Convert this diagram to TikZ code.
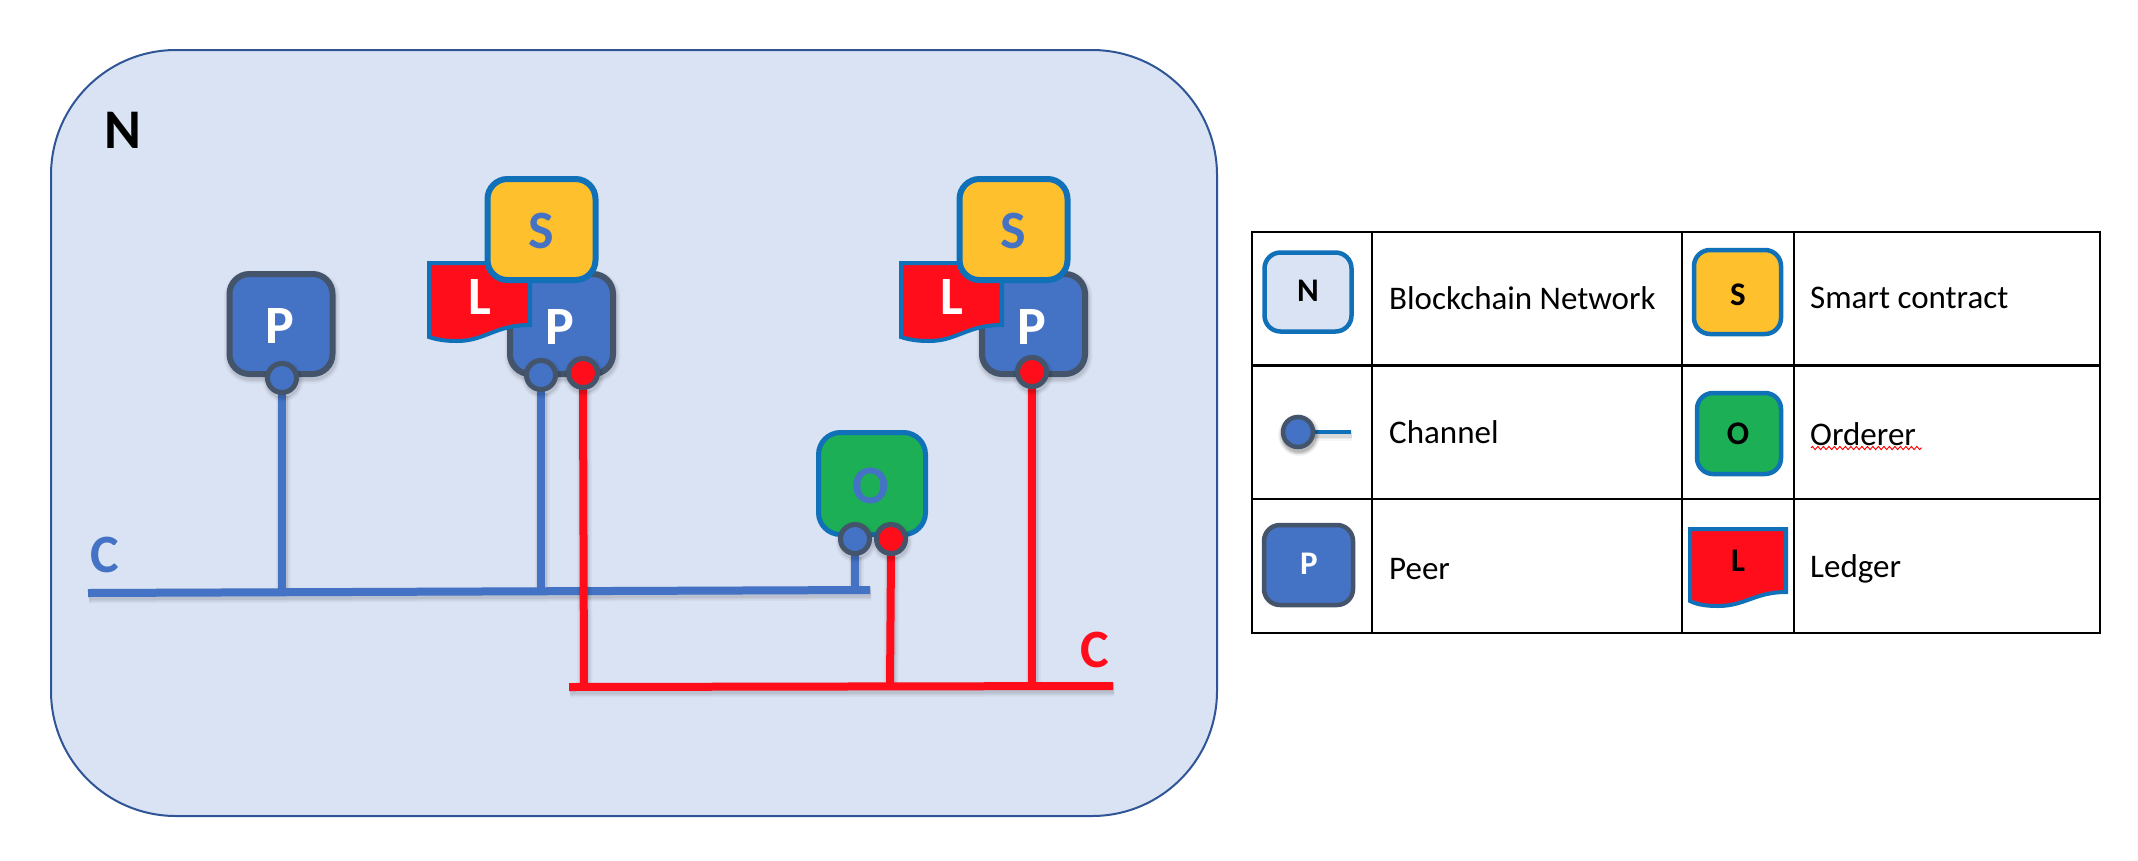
\documentclass[tikz,border=0pt]{standalone}
\usepackage{fontspec}
\setmainfont{Carlito}
\usetikzlibrary{decorations.pathmorphing}
\definecolor{netfill}{HTML}{DAE3F3}
\definecolor{netline}{HTML}{2F5597}
\definecolor{peerblue}{HTML}{4472C4}
\definecolor{peerline}{HTML}{44546A}
\definecolor{edgeblue}{HTML}{1070B8}
\definecolor{ledgerred}{HTML}{FF0D1B}
\definecolor{smartgold}{HTML}{FFC02D}
\definecolor{ordgreen}{HTML}{1CAF56}
\pgfdeclarelayer{netlayer}
\pgfdeclarelayer{connlayer}
\pgfsetlayers{netlayer,connlayer,main}
\newcommand{\bigfnt}{\fontsize{54}{60}\selectfont\bfseries}
\newcommand{\minifnt}{\fontsize{33}{38}\selectfont\bfseries}
\newcommand{\labfnt}{\fontsize{33}{40}\selectfont}
\tikzset{
  softshadow/.style={
    preaction={draw=black,fill=none,opacity=.03,line width=#1+7pt,transform canvas={xshift=1pt,yshift=-3pt}},
    preaction={draw=black,fill=none,opacity=.05,line width=#1+4pt,transform canvas={xshift=1pt,yshift=-3pt}},
    preaction={draw=black,fill=none,opacity=.07,line width=#1+1pt,transform canvas={xshift=1pt,yshift=-3pt}}},
  boxbase/.style={rectangle,inner sep=0pt,outer sep=0pt},
  peerbox/.style={boxbase,draw=peerline,fill=peerblue,line width=6pt,rounded corners=20pt,minimum width=103pt,minimum height=100pt,softshadow=6pt},
  smartbox/.style={boxbase,draw=edgeblue,fill=smartgold,line width=6pt,rounded corners=20pt,minimum width=108pt,minimum height=101pt},
  orderbox/.style={boxbase,draw=edgeblue,fill=ordgreen,line width=5pt,rounded corners=22pt,minimum width=107pt,minimum height=102pt},
  flagshape/.style={draw=edgeblue,fill=ledgerred,line width=4pt},
  port/.style={circle,inner sep=0pt,outer sep=0pt,minimum size=29pt,draw=peerline,line width=5pt,softshadow=5pt},
  blueport/.style={port,fill=peerblue},
  redport/.style={port,fill=ledgerred},
  blueline/.style={draw=peerblue,line width=8pt,softshadow=8pt},
  redline/.style={draw=ledgerred,line width=8pt,softshadow=8pt},
  bigtext/.style={inner sep=0pt,font=\bigfnt},
  legendbox/.style={boxbase,line width=4.5pt,rounded corners=16pt,minimum width=87pt,minimum height=79pt},
  minitext/.style={inner sep=0pt,font=\minifnt},
  labeltext/.style={anchor=west,inner sep=0pt,font=\labfnt,text=black},
  tablerule/.style={draw=black,line width=2.5pt}
}
\begin{document}
\begin{tikzpicture}[x=1pt,y=-1pt]
\useasboundingbox (0,0) rectangle (2138,860);

\begin{pgfonlayer}{netlayer}
\fill[white] (0,0) rectangle (2138,860);
\node[boxbase,draw=netline,fill=netfill,line width=2pt,rounded corners=125pt,minimum width=1166pt,minimum height=766pt] (net) at (634,433) {};
\end{pgfonlayer}
\node[bigtext,font=\fontsize{56}{64}\selectfont\bfseries] (nlabel) at (123,130) {N};
\node[bigtext,text=peerblue] (cblue) at (105,555) {C};
\node[bigtext,text=ledgerred] (cred) at (1095,650) {C};

% peer 1
\node[peerbox] (p1) at (281,324) {};
\node[bigtext,text=white] (p1t) at (280,326) {P};

% peer 2 group
\node[peerbox] (p2) at (561.5,324) {};
\node[bigtext,text=white] (p2t) at (560,327) {P};
\path[flagshape] (429,263) -- (530,263) -- (530,325) .. controls (495,325) and (485,341) .. (457,341) .. controls (447,341) and (438,340) .. (429,337) -- cycle;
\node[bigtext,text=white] (l2t) at (480,297) {L};
\node[smartbox] (s2) at (541.5,229.5) {};
\node[bigtext,text=peerblue] (s2t) at (541,231) {S};

% peer 3 group
\begin{scope}[xshift=472pt]
\node[peerbox] (p3) at (561.5,324) {};
\node[bigtext,text=white] (p3t) at (560,327) {P};
\path[flagshape] (429,263) -- (530,263) -- (530,325) .. controls (495,325) and (485,341) .. (457,341) .. controls (447,341) and (438,340) .. (429,337) -- cycle;
\node[bigtext,text=white] (l3t) at (480,297) {L};
\node[smartbox] (s3) at (541.5,229.5) {};
\node[bigtext,text=peerblue] (s3t) at (541,231) {S};
\end{scope}

% orderer
\node[orderbox] (ord) at (872,483.5) {};
\node[bigtext,text=peerblue] (ordt) at (871,486) {O};

% ports
\node[blueport] (b1) at (282,378) {};
\node[blueport] (b2) at (541,375) {};
\node[redport] (r2) at (583,373) {};
\node[redport] (r3) at (1032,372) {};
\node[blueport] (b4) at (855,539) {};
\node[redport] (r4) at (891,539) {};

% channel buses
\coordinate (ba) at (88,593);
\coordinate (bb) at (870,590);
\coordinate (ja) at (282,592.3);
\coordinate (jb) at (541,591.4);
\coordinate (jc) at (855,590);
\coordinate (ra) at (569,687);
\coordinate (rb) at (1113,686);
\coordinate (ka) at (584,687);
\coordinate (kb) at (890,686.5);
\coordinate (kc) at (1032,686);
\begin{pgfonlayer}{connlayer}
\draw[blueline] (b1.south) -- (ja);
\draw[blueline] (b2.south) -- (jb);
\draw[blueline] (b4.south) -- (jc);
\draw[blueline] (ba) -- (bb);
\draw[redline] (r2.south) -- (ka);
\draw[redline] (r4.south) -- (kb);
\draw[redline] (r3.south) -- (kc);
\draw[redline] (ra) -- (rb);
\end{pgfonlayer}

% legend table
\draw[tablerule] (1252,232) rectangle (2100,633);
\draw[tablerule] (1252,365.5) -- (2100,365.5);
\draw[tablerule] (1252,499) -- (2100,499);
\draw[tablerule] (1372,232) -- (1372,633);
\draw[tablerule] (1682,232) -- (1682,633);
\draw[tablerule] (1794,232) -- (1794,633);

\node[legendbox,draw=edgeblue,fill=netfill] (lgn) at (1308,292) {};
\node[minitext] (lgnt) at (1308,291) {N};
\node[labeltext] (lgnl) at (1389,298) {Blockchain Network};

\node[legendbox,draw=edgeblue,fill=smartgold,minimum height=84pt] (lgs) at (1737.5,292) {};
\node[minitext] (lgst) at (1738,295) {S};
\node[labeltext] (lgsl) at (1810,298) {Smart contract};

\node[port,fill=peerblue,minimum size=30pt,line width=4.5pt,softshadow=4pt] (lgc) at (1298,432) {};
\coordinate (lgcend) at (1351,432);
\begin{pgfonlayer}{connlayer}
\draw[draw=edgeblue,line width=4pt,softshadow=4pt] (lgc.east) -- (lgcend);
\end{pgfonlayer}
\node[labeltext] (lgcl) at (1389,432) {Channel};

\node[legendbox,draw=edgeblue,fill=ordgreen,minimum height=81pt,minimum width=84pt] (lgo) at (1739,433.5) {};
\node[minitext] (lgot) at (1738,434) {O};
\node[labeltext] (lgol) at (1810,434) {Orderer};
\coordinate (sqa) at (1811,448);
\coordinate (sqb) at (1922,448);
\draw[draw=red,line width=.9pt,decorate,decoration={zigzag,amplitude=1.6pt,segment length=5.5pt}] (sqa) -- (sqb);

\node[legendbox,draw=peerline,fill=peerblue,minimum height=80pt,minimum width=89pt] (lgp) at (1308.5,565) {};
\node[minitext,text=white] (lgpt) at (1309,564) {P};
\node[labeltext] (lgpl) at (1389,569) {Peer};

\path[flagshape] (1690,529) -- (1786,529) -- (1786,592) .. controls (1755,592) and (1745,606) .. (1718,606) .. controls (1708,606) and (1698,605) .. (1690,601) -- cycle;
\node[minitext] (lglt) at (1738,561) {L};
\node[labeltext] (lgll) at (1810,569) {Ledger};
\end{tikzpicture}
\end{document}
